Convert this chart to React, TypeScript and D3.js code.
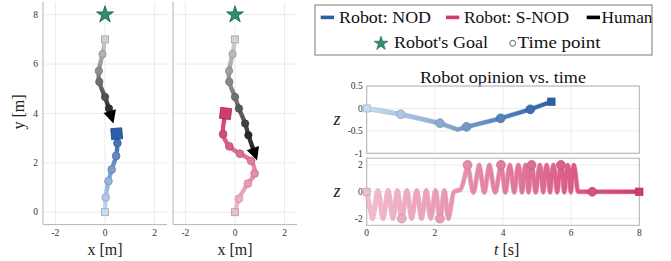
import React from "react";
import * as d3 from "d3";

const W = 671;
const H = 261;
const FONT = "Liberation Serif";

// trajectories, [x, y] in metres
const humanA = [[0, 7], [-0.1, 6.4], [-0.25, 5.72], [-0.23, 5.28], [0, 4.67], [0.16, 4.2], [0.34, 3.59]];
const nodPath = [[0, 0], [0.03, 0.6], [0.14, 1.26], [0.27, 1.73], [0.45, 2.28], [0.5, 2.8], [0.47, 3.18]];
const humanB = [[0, 7], [-0.1, 6.4], [-0.24, 5.72], [-0.23, 5.28], [0, 4.67], [0.16, 4.2], [0.41, 3.59], [0.54, 3.12], [0.89, 2.1]];
const snodPath = [[0, 0], [0.16, 0.55], [0.52, 1.16], [0.79, 1.57], [0.65, 2.08], [0.2, 2.37], [-0.23, 2.67], [-0.48, 3.16], [-0.38, 4.0]];
const goal = [0, 8];

// opinion vs time, NOD
const nodT = [0, 1.0, 2.15, 2.67, 2.93, 3.93, 4.8, 5.42];
const nodZ = [0, -0.13, -0.33, -0.47, -0.41, -0.22, -0.02, 0.15];
const nodMarkT = [1.0, 2.15, 2.93, 3.93, 4.8];

// opinion vs time, S-NOD (dips to -2, then spikes to +2, then settles at 0)
const snodT = [
  0,
  0.14, 0.17, 0.2, 0.33,
  0.45, 0.48, 0.51, 0.63,
  0.74, 0.77, 0.8, 0.9,
  1.0, 1.03, 1.06, 1.18,
  1.29, 1.32, 1.35, 1.47,
  1.58, 1.61, 1.64, 1.75,
  1.85, 1.88, 1.91, 2.02,
  2.12, 2.15, 2.18, 2.28,
  2.37, 2.4, 2.43, 2.56,
  2.75,
  2.93, 2.96, 2.99, 3.13,
  3.27, 3.3, 3.33, 3.45,
  3.57, 3.6, 3.63, 3.77,
  3.91, 3.94, 3.97, 4.07,
  4.17, 4.2, 4.23, 4.33,
  4.42, 4.45, 4.48, 4.56,
  4.63, 4.66, 4.69, 4.75,
  4.81, 4.84, 4.87, 4.96,
  5.05, 5.08, 5.11, 5.18,
  5.25, 5.28, 5.31, 5.38,
  5.45, 5.48, 5.51, 5.59,
  5.67, 5.7, 5.73, 5.8,
  5.87, 5.9, 5.93, 5.99,
  6.05, 6.08, 6.11, 6.2,
  6.62, 8,
];
const snodZ = [
  0,
  -1.7, -2, -1.7, 0.1,
  -1.7, -2, -1.7, 0.1,
  -1.7, -2, -1.7, 0.1,
  -1.7, -2, -1.7, 0.1,
  -1.7, -2, -1.7, 0.1,
  -1.7, -2, -1.7, 0.1,
  -1.7, -2, -1.7, 0.1,
  -1.7, -2, -1.7, 0.1,
  -1.7, -2, -1.7, 0,
  0.15,
  1.7, 2, 1.7, -0.05,
  1.7, 2, 1.7, -0.05,
  1.7, 2, 1.7, -0.05,
  1.7, 2, 1.7, -0.05,
  1.7, 2, 1.7, -0.05,
  1.7, 2, 1.7, -0.05,
  1.7, 2, 1.7, -0.05,
  1.7, 2, 1.7, -0.05,
  1.7, 2, 1.7, -0.05,
  1.7, 2, 1.7, -0.05,
  1.7, 2, 1.7, -0.05,
  1.7, 2, 1.7, -0.05,
  1.7, 2, 1.7, -0.05,
  1.7, 2, 1.7, 0,
  0, 0,
];
const snodMarkT = [1.03, 2.15, 2.96, 3.94, 4.84, 5.7, 6.62];

const trajTicksX = [-2, 0, 2];
const trajTicksY = [0, 2, 4, 6, 8];
const timeTicks = [0, 2, 4, 6, 8];
const topTicks = [0.5, 0, -0.5, -1];
const botTicks = [2, 0, -2];

const humanCol = ["#d2d2d2", "#101010"];
const nodCol = ["#c9def0", "#2b5fa9"];
const snodCol = ["#f2bdd1", "#d33b6e"];
const goalCol = "#2f8d76";
const gridCol = "#ebebeb";
const axisCol = "#b4b4b4";
const tickCol = "#333";

const star = d3.symbol().type(d3.symbolStar);

function Traj({x0, id, showY, robot, rCol, human}: any) {
  const x = d3.scaleLinear().domain([-2.5, 2.5]).range([x0, x0 + 124]);
  const y = d3.scaleLinear().domain([-0.5, 8.5]).range([224.6, 2.3]);
  const line = d3.line<any>().x(d => x(d[0])).y(d => y(d[1])).curve(d3.curveCatmullRom);

  // human arrow
  const hn = human.length;
  const tip = [x(human[hn - 1][0]), y(human[hn - 1][1])];
  const prev = [x(human[hn - 2][0]), y(human[hn - 2][1])];
  const ang = Math.atan2(tip[1] - prev[1], tip[0] - prev[0]);
  const base = [tip[0] - 11 * Math.cos(ang), tip[1] - 11 * Math.sin(ang)];
  const hPts = human.slice(0, hn - 1).map((d: number[]) => [x(d[0]), y(d[1])]).concat([base]);
  const hLine = d3.line<any>().curve(d3.curveCatmullRom)(hPts);

  const rn = robot.length;
  const rColor = d3.interpolateRgb(rCol[0], rCol[1]);
  const hColor = d3.interpolateRgb(humanCol[0], humanCol[1]);
  const rs = [x(robot[0][0]), y(robot[0][1])];
  const re = [x(robot[rn - 1][0]), y(robot[rn - 1][1])];
  const endAng = Math.atan2(re[1] - y(robot[rn - 2][1]), re[0] - x(robot[rn - 2][0])) * 180 / Math.PI + 90;

  return (
    <g>
      <defs>
        <linearGradient id={id + "r"} gradientUnits="userSpaceOnUse" x1={rs[0]} y1={rs[1]} x2={re[0]} y2={re[1]}>
          <stop offset="0" stopColor={rCol[0]} />
          <stop offset="1" stopColor={rCol[1]} />
        </linearGradient>
        <linearGradient id={id + "h"} gradientUnits="userSpaceOnUse" x1={hPts[0][0]} y1={hPts[0][1]} x2={tip[0]} y2={tip[1]}>
          <stop offset="0" stopColor={humanCol[0]} />
          <stop offset="1" stopColor={humanCol[1]} />
        </linearGradient>
      </defs>
      {trajTicksX.map(t => <line key={"gx" + t} x1={x(t)} x2={x(t)} y1={2} y2={224.6} stroke={gridCol} />)}
      {trajTicksY.map(t => <line key={"gy" + t} x1={x0} x2={x0 + 124} y1={y(t)} y2={y(t)} stroke={gridCol} />)}
      <line x1={x0} x2={x0} y1={2} y2={224.6} stroke={axisCol} />
      <line x1={x0} x2={x0 + 124} y1={224.6} y2={224.6} stroke={axisCol} />
      {trajTicksX.map(t => (
        <text key={"tx" + t} x={x(t)} y={236} fontSize={9.5} textAnchor="middle" fill={tickCol} fontFamily={FONT}>{t < 0 ? "-" + -t : t}</text>
      ))}
      {showY && trajTicksY.map(t => (
        <text key={"ty" + t} x={x0 - 5} y={y(t) + 3.2} fontSize={9.5} textAnchor="end" fill={tickCol} fontFamily={FONT}>{t}</text>
      ))}
      <text x={x(0)} y={254.5} fontSize={16} textAnchor="middle" fill="#222" fontFamily={FONT}>x [m]</text>

      <path d={star.size(90)()!} transform={`translate(${x(goal[0])},${y(goal[1])})`} fill={goalCol} stroke="#1e5f4f" strokeWidth={0.8} />

      {/* human */}
      <path d={hLine!} fill="none" stroke={`url(#${id}h)`} strokeWidth={4.4} strokeLinecap="round" />
      {human.slice(1, hn - 1).map((d: number[], i: number) => (
        <circle key={"hc" + i} cx={x(d[0])} cy={y(d[1])} r={3.7} fill={hColor((i + 1) / (hn - 1))}
          stroke={d3.color(hColor((i + 1) / (hn - 1)))!.darker(0.7).toString()} strokeWidth={0.7} />
      ))}
      <rect x={x(human[0][0]) - 3.5} y={y(human[0][1]) - 3.5} width={7} height={7} fill={humanCol[0]} stroke="#999" strokeWidth={0.7} />
      <path d={`M0,0 L-13,-6.5 L-13,6.5 Z`} transform={`translate(${tip[0]},${tip[1]}) rotate(${ang * 180 / Math.PI})`} fill="#000" />

      {/* robot */}
      <path d={line(robot)!} fill="none" stroke={`url(#${id}r)`} strokeWidth={4.4} strokeLinecap="round" />
      {robot.slice(1, rn - 1).map((d: number[], i: number) => (
        <circle key={"rc" + i} cx={x(d[0])} cy={y(d[1])} r={3.9} fill={rColor((i + 1) / (rn - 1))}
          stroke={d3.color(rColor((i + 1) / (rn - 1)))!.darker(0.6).toString()} strokeWidth={0.7} />
      ))}
      <rect x={rs[0] - 3.5} y={rs[1] - 3.5} width={7} height={7} fill={rCol[0]} stroke="#999" strokeWidth={0.7} />
      <rect x={-5.5} y={-5.5} width={11} height={11} fill={rCol[1]} stroke={d3.color(rCol[1])!.darker(0.8).toString()} strokeWidth={0.8}
        transform={`translate(${re[0]},${re[1]}) rotate(${endAng})`} />
    </g>
  );
}

function TimePlot({id, ts, zs, marks, col, y, ticks, showX, top}: any) {
  const x = d3.scaleLinear().domain([0, 8]).range([366.7, 639.3]);
  const [yb, yt] = y.range();
  const pts = ts.map((t: number, i: number) => [t, zs[i]]);
  const line = d3.line<any>().x(d => x(d[0])).y(d => y(d[1])).curve(top ? d3.curveLinear : d3.curveMonotoneX);
  const cFn = d3.interpolateRgb(col[0], col[1]);
  const tEnd = ts[ts.length - 1];
  const zOf = (t: number) => zs[ts.indexOf(t)];
  return (
    <g>
      <defs>
        <linearGradient id={id} gradientUnits="userSpaceOnUse" x1={x(0)} y1={0} x2={x(tEnd)} y2={0}>
          <stop offset="0" stopColor={col[0]} />
          <stop offset="1" stopColor={col[1]} />
        </linearGradient>
      </defs>
      {timeTicks.map(t => <line key={"gx" + t} x1={x(t)} x2={x(t)} y1={yt} y2={yb} stroke={gridCol} />)}
      {ticks.map((t: number) => <line key={"gy" + t} x1={x(0)} x2={x(8)} y1={y(t)} y2={y(t)} stroke={gridCol} />)}
      <rect x={x(0)} y={yt} width={x(8) - x(0)} height={yb - yt} fill="none" stroke={axisCol} />
      {ticks.map((t: number) => (
        <text key={"ty" + t} x={x(0) - 4} y={y(t) + 3.2} fontSize={9.5} textAnchor="end" fill={tickCol} fontFamily={FONT}>{t < 0 ? "-" + -t : t}</text>
      ))}
      {showX && timeTicks.map(t => (
        <text key={"tx" + t} x={x(t)} y={236} fontSize={9.5} textAnchor="middle" fill={tickCol} fontFamily={FONT}>{t}</text>
      ))}
      <text x={337} y={(yb + yt) / 2 + 5.5} fontSize={18} fontStyle="italic" textAnchor="middle" fill="#222" fontFamily={FONT}>z</text>
      <path d={line(pts)!} fill="none" stroke={d3.color(col[1])!.darker(0.3).toString()} strokeOpacity={0.35} strokeWidth={5} strokeLinejoin="round" />
      <path d={line(pts)!} fill="none" stroke={`url(#${id})`} strokeWidth={3.8} strokeLinejoin="round" />
      {marks.map((t: number) => {
        const c = cFn(t / tEnd);
        return <circle key={"m" + t} cx={x(t)} cy={y(zOf(t))} r={4.4} fill={c} stroke={d3.color(c)!.darker(0.6).toString()} strokeWidth={0.7} />;
      })}
      <rect x={x(0) - 3.5} y={y(zs[0]) - 3.5} width={7} height={7} fill={col[0]} stroke="#aaa" strokeWidth={0.7} />
      <rect x={x(tEnd) - 3.7} y={y(zs[zs.length - 1]) - 3.7} width={7.4} height={7.4} fill={col[1]} stroke={d3.color(col[1])!.darker(0.6).toString()} strokeWidth={0.7} />
    </g>
  );
}

function Legend() {
  const row1 = 23.3;
  const row2 = 48.3;
  return (
    <g fontFamily={FONT} fontSize={17} fill="#111">
      <rect x={315} y={5} width={337} height={50} fill="#fff" stroke="#7a7a7a" strokeWidth={1} />
      <rect x={320.7} y={15.6} width={13.3} height={3.6} fill={nodCol[1]} />
      <text x={339} y={row1} textLength={92} lengthAdjust="spacingAndGlyphs">Robot: NOD</text>
      <rect x={446} y={15.6} width={13.3} height={3.6} fill={snodCol[1]} />
      <text x={464} y={row1} textLength={105} lengthAdjust="spacingAndGlyphs">Robot: S-NOD</text>
      <rect x={586.7} y={15.6} width={13.3} height={3.6} fill="#000" />
      <text x={601.5} y={row1} textLength={51} lengthAdjust="spacingAndGlyphs">Human</text>
      <path d={star.size(60)()!} transform="translate(381,43.5)" fill={goalCol} stroke="#1e5f4f" strokeWidth={0.6} />
      <text x={394} y={row2} textLength={94} lengthAdjust="spacingAndGlyphs">Robot's Goal</text>
      <circle cx={512.7} cy={43.3} r={3} fill="#fff" stroke="#555" strokeWidth={0.9} />
      <text x={517.5} y={row2} textLength={83} lengthAdjust="spacingAndGlyphs">Time point</text>
    </g>
  );
}

export default function App() {
  const yTop = d3.scaleLinear().domain([-1, 0.5]).range([153.3, 86]);
  const yBot = d3.scaleLinear().domain([-2.5, 2.5]).range([225.3, 158.2]);
  return (
    <svg width={W} height={H} viewBox={`0 0 ${W} ${H}`} style={{position: "absolute", left: 0, top: 0, background: "#fff"}}>
      <rect width={W} height={H} fill="#fff" />
      <Traj x0={43} id="a" showY={true} robot={nodPath} rCol={nodCol} human={humanA} />
      <Traj x0={173} id="b" showY={false} robot={snodPath} rCol={snodCol} human={humanB} />
      <text transform="translate(24,112) rotate(-90)" fontSize={16} textAnchor="middle" fill="#222" fontFamily={FONT}>y [m]</text>

      <text x={503} y={83} fontSize={17} textAnchor="middle" fill="#111" fontFamily={FONT} textLength={166} lengthAdjust="spacingAndGlyphs">Robot opinion vs. time</text>
      <TimePlot id="gt" ts={nodT} zs={nodZ} marks={nodMarkT} col={nodCol} y={yTop} ticks={topTicks} showX={false} top={true} />
      <TimePlot id="gb" ts={snodT} zs={snodZ} marks={snodMarkT} col={snodCol} y={yBot} ticks={botTicks} showX={true} top={false} />
      <text x={506.7} y={254.5} fontSize={16} textAnchor="middle" fill="#222" fontFamily={FONT}>
        <tspan fontStyle="italic">t</tspan> [s]
      </text>
      <Legend />
    </svg>
  );
}
